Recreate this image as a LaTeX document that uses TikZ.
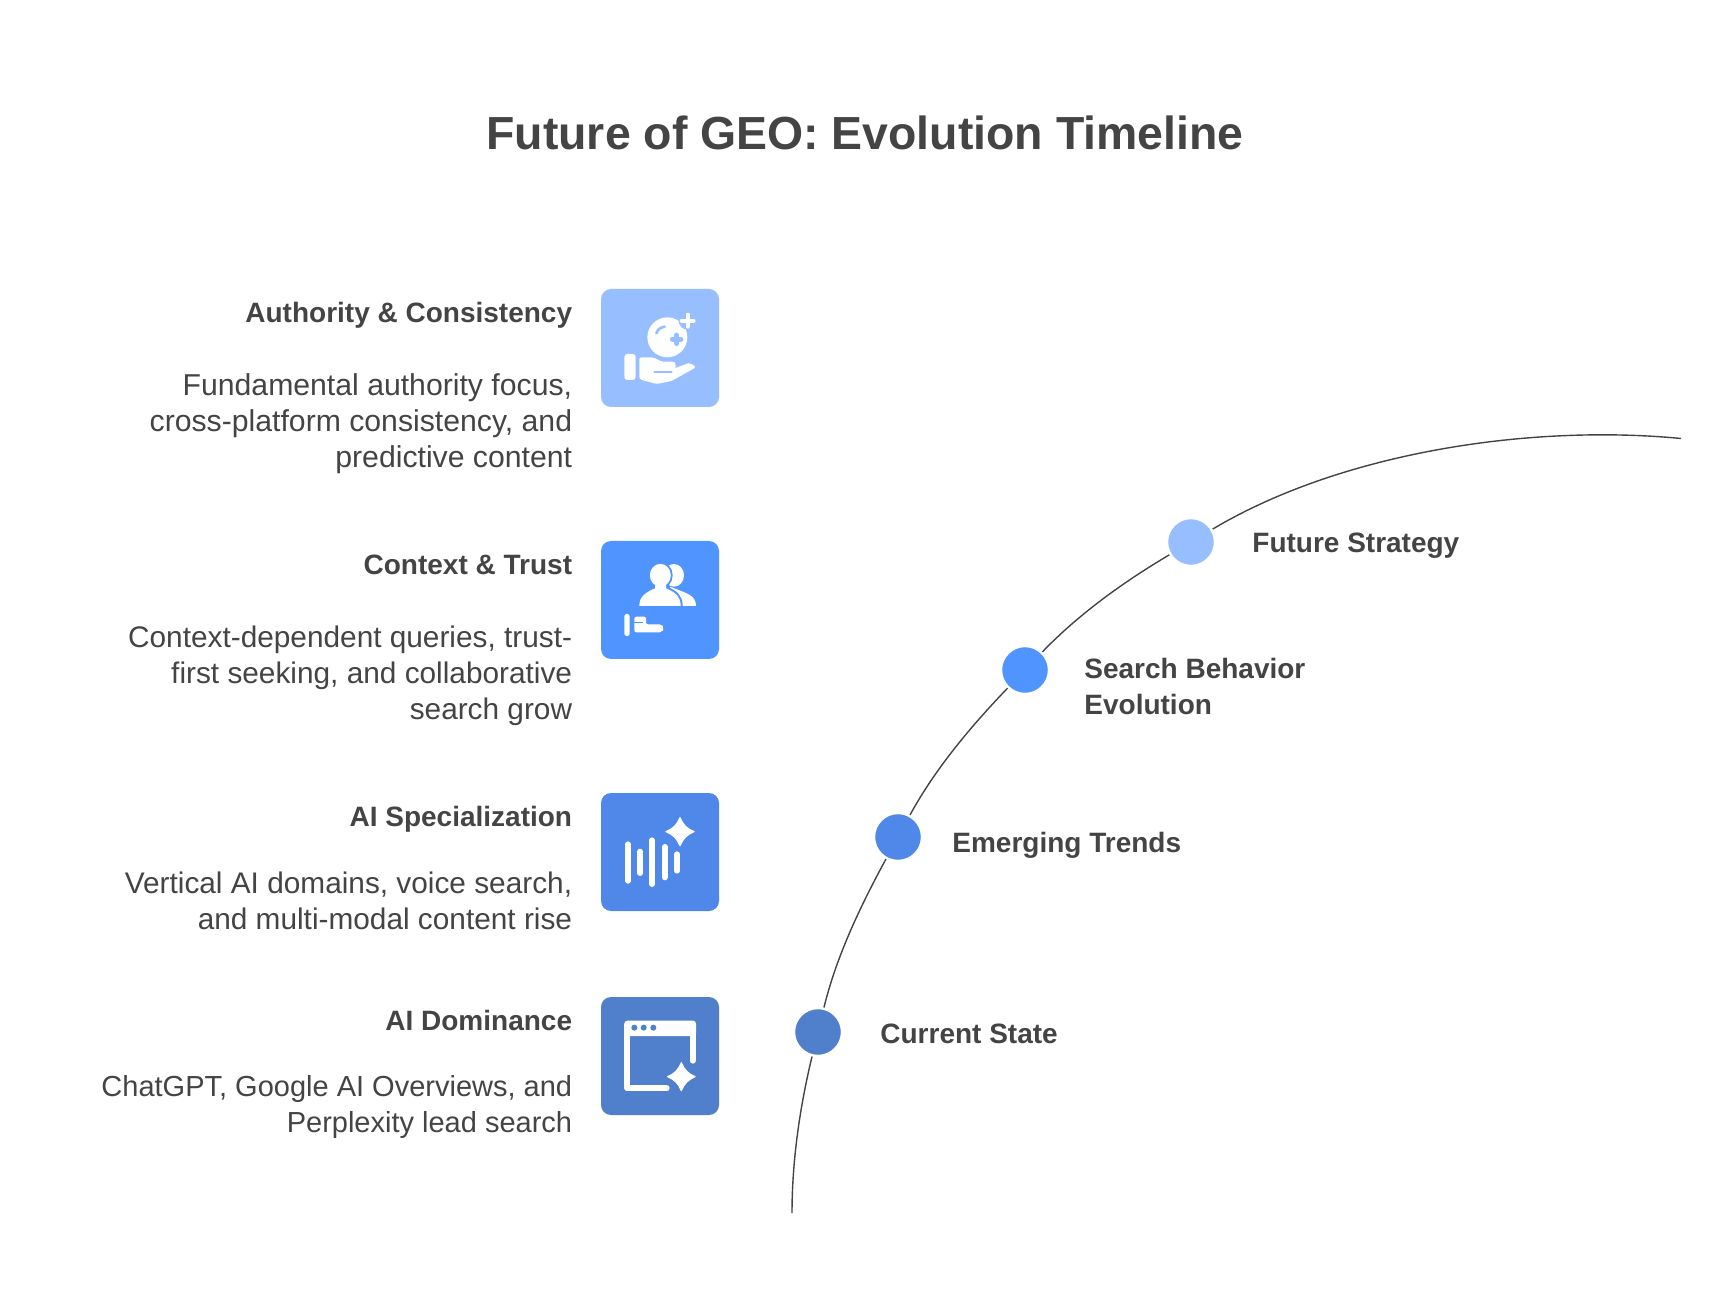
\documentclass[tikz,border=0pt]{standalone}
\usepackage{fontspec}
\setmainfont{Liberation Sans}
\definecolor{lightcol}{HTML}{97BEFF}
\definecolor{brightcol}{HTML}{4F94FF}
\definecolor{midcol}{HTML}{4F88E8}
\definecolor{darkcol}{HTML}{5080CC}
\definecolor{inkcol}{HTML}{444444}
\tikzset{
    iconbox/.style={minimum size=59pt,inner sep=0pt,outer sep=0pt,rounded corners=5pt},
    headtext/.style={anchor=base east,inner sep=0pt,text=inkcol,font=\fontsize{14}{18}\selectfont\bfseries},
    bodytext/.style={anchor=north east,inner sep=0pt,text=inkcol,align=right,font=\fontsize{14.9}{18}\selectfont},
    steptext/.style={anchor=north west,inner sep=0pt,text=inkcol,align=left,font=\fontsize{14}{18}\selectfont\bfseries},
    curvedot/.style={circle,minimum size=24pt,inner sep=0pt,draw=white,line width=1.2pt},
    curveline/.style={draw=inkcol,line width=.7pt,looseness=.84},
    zoomframe/.style args={#1/#2}{shift={(#1,1308-#2)},xscale=1/3,yscale=-1/3},
}
\newcommand{\IconStar}[4]{%
    \fill[white,draw=white,line width=.6pt,line join=round] (#1,#2-#4) .. controls (#1+.2*#3,#2-.5*#4) and (#1+.5*#3,#2-.2*#4) .. (#1+#3,#2)
        .. controls (#1+.5*#3,#2+.2*#4) and (#1+.2*#3,#2+.5*#4) .. (#1,#2+#4)
        .. controls (#1-.2*#3,#2+.5*#4) and (#1-.5*#3,#2+.2*#4) .. (#1-#3,#2)
        .. controls (#1-.5*#3,#2-.2*#4) and (#1-.2*#3,#2-.5*#4) .. cycle;%
}
\begin{document}
\begin{tikzpicture}[x=.5pt,y=.5pt]
    \useasboundingbox (0,0) rectangle (1728,1308);

    \node[inner sep=0pt,anchor=base,text=inkcol,font=\fontsize{23.2}{28}\selectfont\bfseries] (title) at (865,1158.5) {Future of GEO: Evolution Timeline};

    % left column
    \node[iconbox,fill=lightcol] (authoritybox) at (660,960) {};
    \node[iconbox,fill=brightcol] (contextbox) at (660,708) {};
    \node[iconbox,fill=midcol] (specialbox) at (660,456) {};
    \node[iconbox,fill=darkcol] (dominancebox) at (660,252) {};

    \node[headtext] (authorityhead) at (572.5,985) {Authority \& Consistency};
    \node[bodytext,font=\fontsize{15.1}{18}\selectfont] (authoritybody) at (572.5,934.5) {Fundamental authority focus,\\cross-platform consistency, and\\predictive content};
    \node[headtext] (contexthead) at (572.5,733) {Context \& Trust};
    \node[bodytext] (contextbody) at (572.5,682.5) {Context-dependent queries, trust-\\first seeking, and collaborative\\search grow};
    \node[headtext] (specialhead) at (572.5,482) {AI Specialization};
    \node[bodytext] (specialbody) at (572.5,436.5) {Vertical AI domains, voice search,\\and multi-modal content rise};
    \node[headtext] (dominancehead) at (572.5,278) {AI Dominance};
    \node[bodytext,font=\fontsize{14.5}{18}\selectfont] (dominancebody) at (572.5,232.5) {ChatGPT, Google AI Overviews, and\\Perplexity lead search};

    % icons
    \begin{scope}[zoomframe=590/280]
        \fill[white] (232,172) circle (60);
        \fill[lightcol] (293,122) circle (27);
        \draw[white,line width=2pt,line cap=round] (293,104) -- (293,140) (275,122) -- (311,122);
        \draw[lightcol,line width=1.3pt,line cap=round] (199,160) .. controls (203,148) and (212,142) .. (224,140);
        \draw[lightcol,line width=2.4pt,line cap=round] (260,165) -- (260,191) (247,178) -- (273,178);
        \fill[white,rounded corners=1.5pt] (103,222) rectangle (137,300);
        \fill[white,rounded corners=1pt] (148,232) -- (190,232) -- (215,245) -- (245,245) .. controls (258,246) and (258,262) .. (250,266) -- (300,248) -- (318,262) -- (245,303) -- (200,312) -- (148,298) -- cycle;
        \draw[lightcol,line width=1pt,line cap=round] (193,275) -- (245,275);
    \end{scope}

    \begin{scope}[zoomframe=590/530]
        \fill[white] (252,136) ellipse (30 and 34);
        \fill[white] (240,170) .. controls (290,190) and (318,195) .. (318,228) -- (240,228) -- cycle;
        \fill[white,preaction={draw=brightcol,line width=2pt}] (211,136) ellipse (31 and 34);
        \fill[white,preaction={draw=brightcol,line width=2pt}] (148,228) .. controls (148,200) and (165,188) .. (195,175) -- (195,160) -- (228,160) -- (228,175) .. controls (258,188) and (272,200) .. (272,228) -- cycle;
        \fill[white] (211,136) ellipse (31 and 34);
        \fill[white,rounded corners=1.2pt] (103,252) rectangle (119,318);
        \fill[white,rounded corners=1pt] (133,260) -- (168,260) -- (168,283) -- (215,283) -- (223,295) -- (215,307) -- (133,307) -- cycle;
        \draw[brightcol,line width=.7pt] (133,277) -- (160,277);
    \end{scope}

    \begin{scope}[zoomframe=590/785]
        \foreach \barx/\bara/\barb in {114/178/287,151/200/264,186/166/297,224/186/277,261/208/257}
            \draw[white,line width=3pt,line cap=round] (\barx,\bara) -- (\barx,\barb);
        \IconStar{270}{140}{42}{42}
    \end{scope}

    \begin{scope}[zoomframe=590/990]
        \draw[white,line width=3pt,line cap=round,line join=round] (230,295) -- (112,295) -- (112,105) -- (308,105) -- (308,212);
        \fill[white,rounded corners=1.5pt] (103,92) -- (318,92) -- (318,138) -- (103,138) -- cycle;
        \foreach \dotx in {133,161,190}
            \fill[darkcol] (\dotx,113) circle (9);
        \IconStar{274}{260}{41}{42}
    \end{scope}

    % curve
    \coordinate (curvestart) at (792,95);
    \coordinate (curveend) at (1681,869.5);
    \node[curvedot,fill=darkcol] (statedot) at (818,276) {};
    \node[curvedot,fill=midcol] (trendsdot) at (898,471) {};
    \node[curvedot,fill=brightcol] (behaviordot) at (1025,638) {};
    \node[curvedot,fill=lightcol] (strategydot) at (1191,766) {};

    \draw[curveline] (curvestart) to[out=90,in=256.5] (statedot);
    \draw[curveline] (statedot) to[out=76.5,in=241.6] (trendsdot);
    \draw[curveline] (trendsdot) to[out=61.6,in=226.2] (behaviordot);
    \draw[curveline] (behaviordot) to[out=46.2,in=210.9] (strategydot);
    \draw[curveline,looseness=.81] (strategydot) to[out=30.9,in=174.5] (curveend);

    \node[steptext] (statetext) at (880,284) {Current State};
    \node[steptext] (trendstext) at (952,476) {Emerging Trends};
    \node[steptext] (behaviortext) at (1084,650) {Search Behavior\\Evolution};
    \node[steptext] (strategytext) at (1252,775) {Future Strategy};
\end{tikzpicture}
\end{document}
